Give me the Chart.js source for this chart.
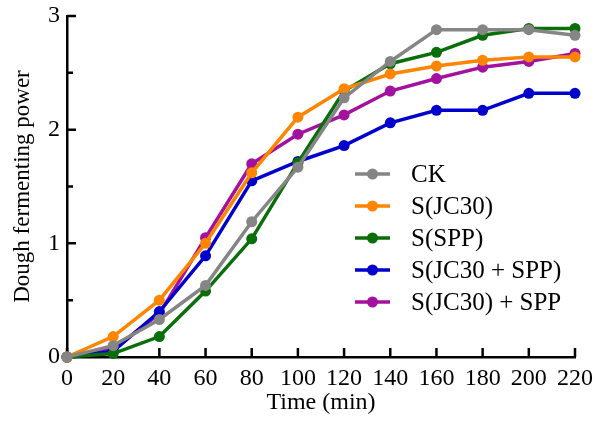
<!DOCTYPE html>
<html>
<head>
<meta charset="utf-8">
<script src="https://cdn.jsdelivr.net/npm/chart.js@4/dist/chart.umd.min.js"></script>
<style>
  html, body { margin: 0; padding: 0; background: #fff; }
  #wrap { width: 595px; height: 425px; }
</style>
</head>
<body>
<div id="wrap"><canvas id="fermChart" width="595" height="425"></canvas></div>
<script>
const times = [0, 20, 40, 60, 80, 100, 120, 140, 160, 180, 200, 220];
const ck      = [0, 0.10, 0.33, 0.63, 1.19, 1.67, 2.28, 2.60, 2.88, 2.88, 2.88, 2.83];
const sJC30   = [0, 0.18, 0.50, 1.00, 1.62, 2.11, 2.36, 2.49, 2.56, 2.61, 2.64, 2.64];
const sSPP    = [0, 0.03, 0.18, 0.58, 1.04, 1.71, 2.34, 2.58, 2.68, 2.83, 2.89, 2.89];
const sJCSPP  = [0, 0.05, 0.40, 0.89, 1.55, 1.72, 1.86, 2.06, 2.17, 2.17, 2.32, 2.32];
const sJCpSPP = [0, 0.07, 0.38, 1.05, 1.70, 1.96, 2.13, 2.34, 2.45, 2.55, 2.60, 2.67];

const names = ['CK', 'S(JC30)', 'S(SPP)', 'S(JC30 + SPP)', 'S(JC30) + SPP'];
const colors = ['#858585', '#ff8500', '#0a6e0a', '#0000cc', '#a3129f'];
const series = [ck, sJC30, sSPP, sJCSPP, sJCpSPP];

const FONT = "'Liberation Serif', 'Times New Roman', serif";

function makeSet(i) {
  return {
    label: names[i],
    data: times.map((t, k) => ({ x: t, y: series[i][k] })),
    borderColor: colors[i],
    backgroundColor: colors[i],
    borderWidth: 3.5,
    pointRadius: 5.5,
    pointHoverRadius: 5.5,
    pointBorderWidth: 0,
    tension: 0,
    clip: false
  };
}

// inward tick marks
const innerTicks = {
  id: 'innerTicks',
  beforeDatasetsDraw(chart) {
    const ctx = chart.ctx;
    const xs = chart.scales.x, ys = chart.scales.y;
    ctx.save();
    ctx.strokeStyle = '#000';
    ctx.lineWidth = 2.5;
    ctx.beginPath();
    times.forEach(t => {
      const px = xs.getPixelForValue(t);
      ctx.moveTo(px, ys.bottom);
      ctx.lineTo(px, ys.bottom - 9);
    });
    for (let v = 0; v <= 3; v += 0.5) {
      const py = ys.getPixelForValue(v);
      const len = (v % 1 === 0) ? 9 : 6;
      ctx.moveTo(xs.left, py);
      ctx.lineTo(xs.left + len, py);
    }
    ctx.stroke();
    ctx.restore();
  }
};

// legend drawn inside the plot
const lineLegend = {
  id: 'lineLegend',
  afterDraw(chart) {
    const ctx = chart.ctx;
    ctx.save();
    ctx.font = '25px ' + FONT;
    ctx.textBaseline = 'middle';
    chart.data.datasets.forEach((ds, i) => {
      const y = 174 + i * 32;
      ctx.strokeStyle = ds.borderColor;
      ctx.lineWidth = 3.5;
      ctx.beginPath();
      ctx.moveTo(355, y);
      ctx.lineTo(390, y);
      ctx.stroke();
      ctx.fillStyle = ds.borderColor;
      ctx.beginPath();
      ctx.arc(372.5, y, 5.5, 0, Math.PI * 2);
      ctx.fill();
      ctx.fillStyle = '#000';
      ctx.fillText(ds.label, 411, y + 1);
    });
    ctx.restore();
  }
};

new Chart(document.getElementById('fermChart'), {
  type: 'line',
  data: { datasets: [0, 1, 2, 3, 4].map(makeSet) },
  options: {
    responsive: false,
    animation: false,
    layout: { padding: { top: 16, right: 20, left: 0, bottom: 0 } },
    plugins: { legend: { display: false }, tooltip: { enabled: false } },
    scales: {
      x: {
        type: 'linear',
        min: 0, max: 220,
        afterBuildTicks: s => { s.ticks = times.map(v => ({ value: v })); },
        afterFit: s => { s.height = 68; s.paddingLeft = 0; s.paddingRight = 0; },
        grid: { display: false, drawTicks: false },
        border: { display: true, color: '#000', width: 2.5 },
        ticks: { color: '#000', font: { family: FONT, size: 24 }, padding: 7, maxRotation: 0, autoSkip: false },
        title: { display: true, text: 'Time (min)', color: '#000', font: { family: FONT, size: 24 }, padding: { top: 0, bottom: 8 } }
      },
      y: {
        min: 0, max: 3,
        afterBuildTicks: s => { s.ticks = [0, 1, 2, 3].map(v => ({ value: v })); },
        afterFit: s => { s.width = 67; s.paddingTop = 0; s.paddingBottom = 0; },
        grid: { display: false, drawTicks: false },
        border: { display: true, color: '#000', width: 2.5 },
        ticks: { color: '#000', font: { family: FONT, size: 24 }, padding: 7 },
        title: { display: true, text: 'Dough fermenting power', color: '#000', font: { family: FONT, size: 23 }, padding: { top: 9, bottom: 0 } }
      }
    }
  },
  plugins: [innerTicks, lineLegend]
});
</script>
</body>
</html>
